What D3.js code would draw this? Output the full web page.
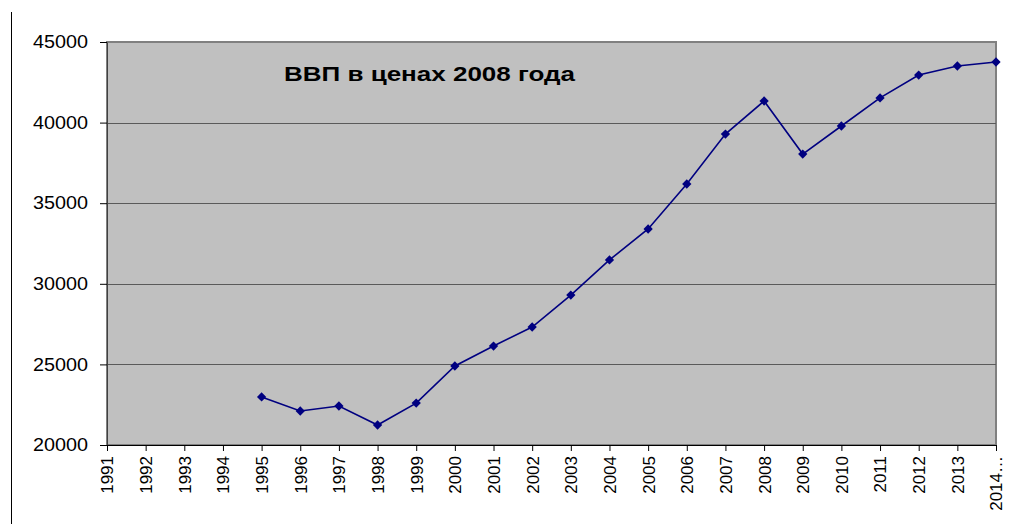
<!DOCTYPE html>
<html>
<head>
<meta charset="utf-8">
<script src="https://cdn.jsdelivr.net/npm/d3@7"></script>
<style>
  body { margin: 0; background: #fff; }
  text { font-family: "Liberation Sans", Arial, sans-serif; }
</style>
</head>
<body>
<script>
// categories and values
var years = ["1991","1992","1993","1994","1995","1996","1997","1998","1999","2000","2001","2002",
             "2003","2004","2005","2006","2007","2008","2009","2010","2011","2012","2013","2014"];
var yearLabels = years.slice(0, 23).concat(["2014…"]);
var gdp = [null, null, null, null, 22980, 22110, 22420, 21240, 22600, 24900, 26140, 27320,
           29300, 31480, 33400, 36190, 39290, 41340, 38050, 39790, 41530, 42950, 43510, 43760];
var yTicks = [20000, 25000, 30000, 35000, 40000, 45000];
var title = "ВВП в ценах 2008 года";

var W = 1019, H = 524;
var margin = {left: 107, right: 23, top: 42, bottom: 79};

var svg = d3.select("body").append("svg").attr("width", W).attr("height", H);

// left border line of the picture
svg.append("line").attr("x1", 11.5).attr("x2", 11.5).attr("y1", 12).attr("y2", H)
  .attr("stroke", "#000").attr("stroke-width", 1);

var x = d3.scalePoint().domain(years).range([margin.left, W - margin.right]);
var y = d3.scaleLinear().domain([20000, 45000]).range([H - margin.bottom, margin.top]);

// plot area
svg.append("rect")
  .attr("x", margin.left).attr("y", margin.top)
  .attr("width", W - margin.right - margin.left)
  .attr("height", H - margin.bottom - margin.top)
  .attr("fill", "#c0c0c0").attr("stroke", "#808080").attr("stroke-width", 2);

// gridlines
svg.append("g").selectAll("line").data(yTicks.slice(1, -1)).join("line")
  .attr("x1", margin.left).attr("x2", W - margin.right)
  .attr("y1", function(d) { return Math.round(y(d)) + 0.5; })
  .attr("y2", function(d) { return Math.round(y(d)) + 0.5; })
  .attr("stroke", "#5a5a5a").attr("stroke-width", 1);

// y axis
var yAxis = d3.axisLeft(y).tickValues(yTicks).tickSize(7).tickSizeOuter(0).tickPadding(12)
  .tickFormat(d3.format("d"));
var gy = svg.append("g").attr("transform", "translate(" + margin.left + ",0)").call(yAxis);
gy.select(".domain").attr("stroke", "#404040");
gy.selectAll("text").attr("font-size", 18).attr("fill", "#000")
  .attr("textLength", 55).attr("lengthAdjust", "spacingAndGlyphs");

// x axis
var xAxis = d3.axisBottom(x).tickSize(6).tickSizeOuter(0)
  .tickFormat(function(d, i) { return yearLabels[i]; });
var gx = svg.append("g").attr("transform", "translate(0," + (H - margin.bottom) + ")").call(xAxis);
gx.select(".domain").attr("stroke", "#000");
gx.selectAll("text")
  .attr("font-size", 17).attr("fill", "#000")
  .attr("transform", "rotate(-90)")
  .attr("text-anchor", "end")
  .attr("x", -11).attr("y", 0).attr("dy", "0.35em");

// line + markers
var pts = years.map(function(d, i) { return {year: d, v: gdp[i]}; })
  .filter(function(d) { return d.v != null; });

var line = d3.line()
  .x(function(d) { return x(d.year); })
  .y(function(d) { return y(d.v); });

svg.append("path").datum(pts).attr("d", line)
  .attr("fill", "none").attr("stroke", "#000080").attr("stroke-width", 1.6);

svg.append("g").selectAll("path").data(pts).join("path")
  .attr("d", d3.symbol().type(d3.symbolDiamond2).size(55))
  .attr("transform", function(d) { return "translate(" + x(d.year) + "," + y(d.v) + ")"; })
  .attr("fill", "#000080");

// title
svg.append("text").attr("x", 284).attr("y", 81)
  .attr("font-size", 21).attr("font-weight", "bold").attr("fill", "#000")
  .attr("textLength", 291).attr("lengthAdjust", "spacingAndGlyphs")
  .text(title);
</script>
</body>
</html>
